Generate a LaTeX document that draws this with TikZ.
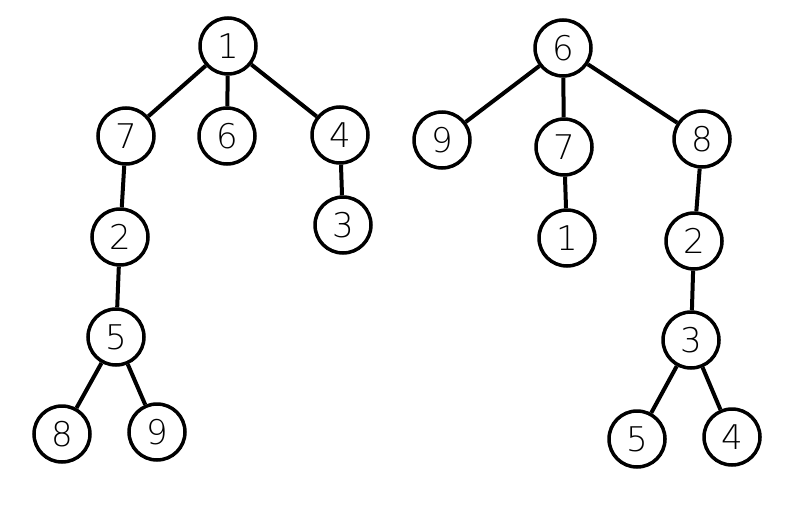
\documentclass[tikz,border=0pt]{standalone}
\usepackage{fontspec}
\setmainfont{DejaVu Sans}
\begin{document}
\begin{tikzpicture}[x=1pt,y=-1pt,
  vtx/.style={draw=black,line width=3.5pt,circle,minimum size=56pt,inner sep=0pt,
    font=\fontsize{34}{34}\selectfont\fontspec{DejaVu Sans ExtraLight}},
  edge/.style={draw=black,line width=4pt}]
\useasboundingbox[fill=white] (0,0) rectangle (786,506);
% left tree
\node[vtx] (a1) at (228,46) {1};
\node[vtx] (a7) at (126,136) {7};
\node[vtx] (a6) at (227,136) {6};
\node[vtx] (a4) at (340,135) {4};
\node[vtx] (a3) at (343,225) {3};
\node[vtx] (a2) at (120,237) {2};
\node[vtx] (a5) at (116,337) {5};
\node[vtx] (a8) at (62,434) {8};
\node[vtx] (a9) at (157,432) {9};
\draw[edge] (a1) -- (a7);
\draw[edge] (a1) -- (a6);
\draw[edge] (a1) -- (a4);
\draw[edge] (a4) -- (a3);
\draw[edge] (a7) -- (a2);
\draw[edge] (a2) -- (a5);
\draw[edge] (a5) -- (a8);
\draw[edge] (a5) -- (a9);
% right tree
\node[vtx] (b6) at (563,48) {6};
\node[vtx] (b9) at (442,140) {9};
\node[vtx] (b7) at (564,147) {7};
\node[vtx] (b8) at (702,139) {8};
\node[vtx] (b1) at (567,238) {1};
\node[vtx] (b2) at (694,241) {2};
\node[vtx] (b3) at (691,340) {3};
\node[vtx] (b5) at (637,439) {5};
\node[vtx] (b4) at (732,437) {4};
\draw[edge] (b6) -- (b9);
\draw[edge] (b6) -- (b7);
\draw[edge] (b6) -- (b8);
\draw[edge] (b7) -- (b1);
\draw[edge] (b8) -- (b2);
\draw[edge] (b2) -- (b3);
\draw[edge] (b3) -- (b5);
\draw[edge] (b3) -- (b4);
\end{tikzpicture}
\end{document}
